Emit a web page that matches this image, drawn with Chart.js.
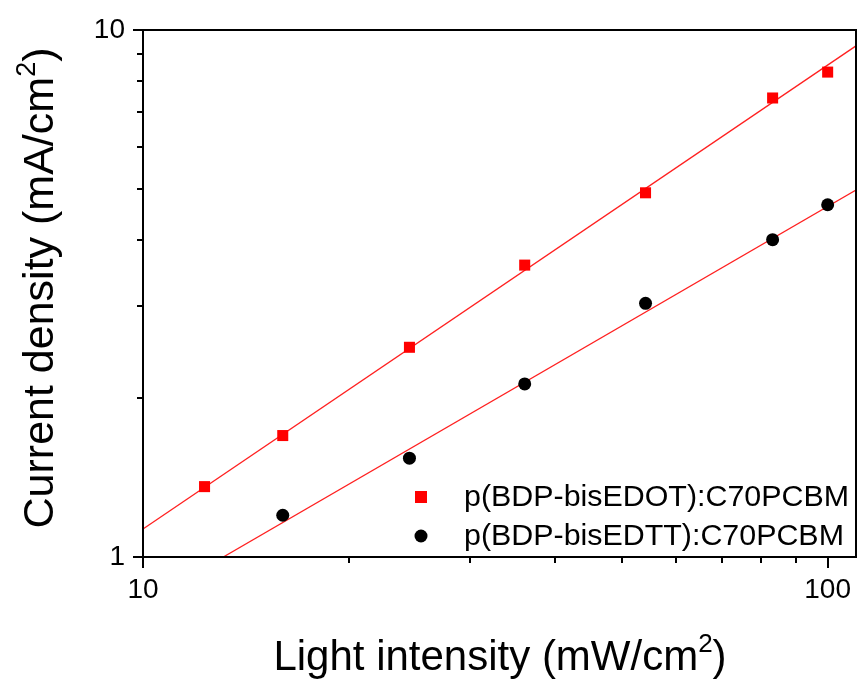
<!DOCTYPE html>
<html>
<head>
<meta charset="UTF-8">
<title>Current density vs light intensity</title>
<script src="https://cdn.jsdelivr.net/npm/chart.js@4/dist/chart.umd.min.js"></script>
<style>
  body { margin: 0; background: #fff; }
  #wrap { width: 858px; height: 679px; }
</style>
</head>
<body>
<div id="wrap"><canvas id="chart" width="858" height="679"></canvas></div>
<script>
// data
const intensityEDOT = [12.3, 16.0, 24.5, 36.1, 54.2, 83.1, 100];
const currentEDOT   = [1.36, 1.70, 2.50, 3.58, 4.91, 7.43, 8.32];
const intensityEDTT = [16.0, 24.5, 36.1, 54.2, 83.1, 100];
const currentEDTT   = [1.20, 1.54, 2.13, 3.03, 4.00, 4.66];

// end points of the two fit lines
const fitEDOTx = [10, 110];
const fitEDOTy = [1.13, 9.33];
const fitEDTTx = [13.1, 110];
const fitEDTTy = [1.0, 4.97];

const xTicks = [10, 20, 30, 40, 50, 60, 70, 80, 90, 100];
const yTicks = [1, 2, 3, 4, 5, 6, 7, 8, 9, 10];
const labeledX = [10, 100];
const labeledY = [1, 10];

const seriesNames = ['p(BDP-bisEDOT):C70PCBM', 'p(BDP-bisEDTT):C70PCBM'];

const FONT = '"Liberation Sans", Arial, sans-serif';

function pts(xs, ys) {
  return xs.map((x, i) => ({ x: x, y: ys[i] }));
}

// frame, tick marks, titles and legend
const decor = {
  id: 'decor',
  afterDraw(chart) {
    const ctx = chart.ctx;
    const a = chart.chartArea;
    const xs = chart.scales.x, ys = chart.scales.y;
    ctx.save();
    ctx.strokeStyle = '#000';
    ctx.lineWidth = 2;
    ctx.strokeRect(a.left, a.top, a.right - a.left, a.bottom - a.top);

    // tick marks, major ones longer
    ctx.beginPath();
    xTicks.forEach(v => {
      const px = Math.round(xs.getPixelForValue(v));
      const len = labeledX.includes(v) ? 11 : 6;
      ctx.moveTo(px, a.bottom);
      ctx.lineTo(px, a.bottom + len);
    });
    yTicks.forEach(v => {
      const py = Math.round(ys.getPixelForValue(v));
      const len = labeledY.includes(v) ? 10 : 6;
      ctx.moveTo(a.left, py);
      ctx.lineTo(a.left - len, py);
    });
    ctx.stroke();

    // axis titles with superscript
    function supText(parts, cx, cy, size) {
      const big = size + 'px ' + FONT, small = Math.round(size * 0.62) + 'px ' + FONT;
      let w = 0;
      parts.forEach(p => { ctx.font = p.sup ? small : big; w += ctx.measureText(p.t).width; });
      let x = cx - w / 2;
      ctx.textBaseline = 'alphabetic';
      ctx.textAlign = 'left';
      parts.forEach(p => {
        ctx.font = p.sup ? small : big;
        ctx.fillText(p.t, x, p.sup ? cy - size * 0.42 : cy);
        x += ctx.measureText(p.t).width;
      });
    }
    ctx.fillStyle = '#000';
    supText([{ t: 'Light intensity (mW/cm' }, { t: '2', sup: true }, { t: ')' }], 500, 670, 42);
    ctx.save();
    ctx.translate(53, 288);
    ctx.rotate(-Math.PI / 2);
    supText([{ t: 'Current density (mA/cm' }, { t: '2', sup: true }, { t: ')' }], 0, 0, 43);
    ctx.restore();

    // legend inside the plot
    ctx.font = '30.4px ' + FONT;
    ctx.textBaseline = 'middle';
    ctx.textAlign = 'left';
    const rows = [497, 536];
    [0, 1].forEach(i => {
      const ds = chart.data.datasets[i];
      ctx.fillStyle = ds.backgroundColor;
      if (ds.pointStyle === 'rect') {
        ctx.fillRect(415, rows[i] - 6, 12, 12);
      } else {
        ctx.beginPath();
        ctx.arc(421, rows[i], 6.5, 0, Math.PI * 2);
        ctx.fill();
      }
      ctx.fillStyle = '#000';
      ctx.fillText(ds.label, 464, rows[i] + 1);
    });
    ctx.restore();
  }
};

// invisible tick marks only push the labels away from the axis
const hiddenGrid = len => ({
  display: true,
  drawOnChartArea: false,
  drawTicks: true,
  tickLength: len,
  tickColor: 'rgba(0,0,0,0)'
});

new Chart(document.getElementById('chart'), {
  type: 'scatter',
  data: {
    datasets: [
      {
        label: seriesNames[0],
        data: pts(intensityEDOT, currentEDOT),
        pointStyle: 'rect',
        pointRadius: 7.8,
        backgroundColor: '#ff0000',
        borderColor: '#ff0000',
        borderWidth: 0
      },
      {
        label: seriesNames[1],
        data: pts(intensityEDTT, currentEDTT),
        pointStyle: 'circle',
        pointRadius: 6.5,
        backgroundColor: '#000000',
        borderColor: '#000000',
        borderWidth: 0
      },
      {
        label: 'fit EDOT',
        data: pts(fitEDOTx, fitEDOTy),
        showLine: true,
        pointRadius: 0,
        borderColor: '#ff2020',
        borderWidth: 1.3
      },
      {
        label: 'fit EDTT',
        data: pts(fitEDTTx, fitEDTTy),
        showLine: true,
        pointRadius: 0,
        borderColor: '#ff2020',
        borderWidth: 1.3
      }
    ]
  },
  options: {
    responsive: false,
    animation: false,
    layout: { autoPadding: false, padding: { top: 30, right: 2, left: 0, bottom: 0 } },
    plugins: { legend: { display: false }, tooltip: { enabled: false } },
    scales: {
      x: {
        type: 'logarithmic',
        min: 10,
        max: 110,
        afterBuildTicks: s => { s.ticks = xTicks.map(v => ({ value: v })); },
        afterFit: s => { s.height = 122; s.paddingLeft = 0; s.paddingRight = 0; },
        grid: hiddenGrid(16),
        border: { display: false },
        ticks: {
          autoSkip: false,
          maxRotation: 0,
          padding: 0,
          color: '#000',
          font: { family: FONT, size: 28 },
          callback: v => labeledX.includes(v) ? String(v) : ''
        }
      },
      y: {
        type: 'logarithmic',
        min: 1,
        max: 10,
        afterBuildTicks: s => { s.ticks = yTicks.map(v => ({ value: v })); },
        afterFit: s => { s.width = 143; s.paddingTop = 0; s.paddingBottom = 0; },
        grid: hiddenGrid(18),
        border: { display: false },
        ticks: {
          autoSkip: false,
          padding: 0,
          color: '#000',
          font: { family: FONT, size: 28 },
          callback: v => labeledY.includes(v) ? String(v) : ''
        }
      }
    }
  },
  plugins: [decor]
});
</script>
</body>
</html>
